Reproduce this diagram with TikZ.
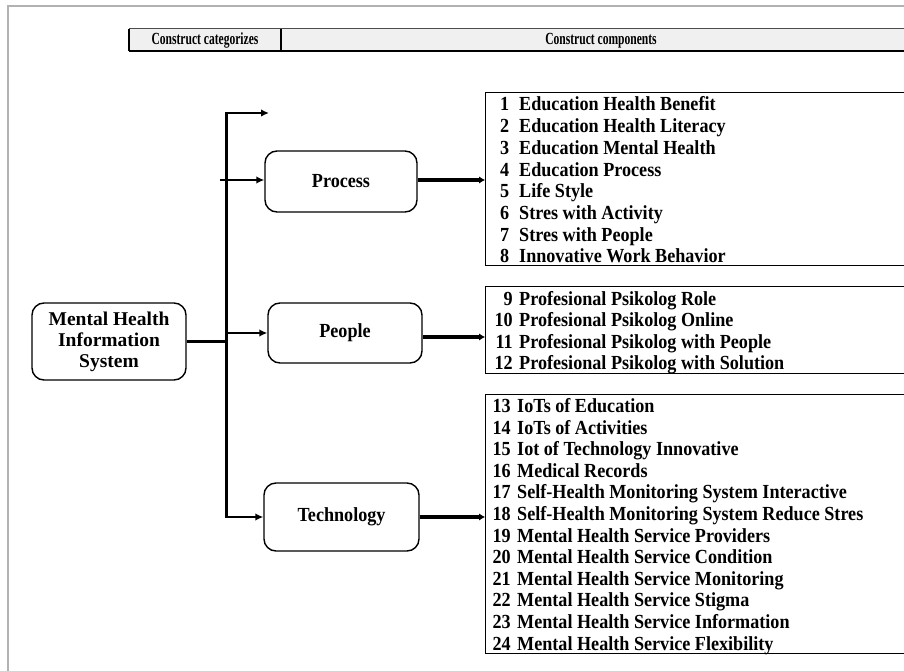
\documentclass[tikz,border=0pt]{standalone}
\usepackage{fontspec}
\setmainfont{Liberation Serif}
\usetikzlibrary{arrows.meta}
\newcommand{\stretchy}[1]{\scalebox{0.98}[1.08]{#1}}
\begin{document}
\begin{tikzpicture}[x=1pt,y=-1pt,
  lbl/.style={font=\fontsize{18.5}{21}\selectfont\bfseries},
  catbox/.style={lbl, draw, line width=1.4pt, rounded corners=12pt, align=center, inner sep=0pt},
  listbox/.style={draw, line width=1.4pt, anchor=north west, inner sep=0pt, minimum width=480pt},
  num/.style={lbl, anchor=east, inner sep=0pt, text height=13pt, text depth=2pt},
  itm/.style={lbl, anchor=west, inner sep=0pt, text height=13pt, text depth=2pt},
  hdr/.style={font=\fontsize{17}{18}\selectfont\bfseries, inner sep=0pt},
  trunk/.style={line width=3pt},
  br/.style={line width=2.4pt, -{Latex[length=8pt,width=7.5pt]}},
  outarr/.style={line width=4pt, -{Latex[length=6pt,width=7.5pt]}},
]
\useasboundingbox (0,0) rectangle (904,671);
\clip (0,0) rectangle (904,671);
% outer frame
\draw[black!30, line width=2pt] (8,671) -- (8,6) -- (904,6);
% header
\fill[black!6] (129,29) rectangle (910,51);
\draw[black!70, line width=1pt] (129,29) -- (910,29);
\draw[line width=1.4pt] (129,51) -- (910,51);
\draw[line width=1.2pt] (129,29) -- (129,51);
\draw[line width=1.2pt] (281,29) -- (281,51);
\node[hdr] (h1) at (205,40.5) {\scalebox{0.68}[1]{Construct categorizes}};
\node[hdr] (h2) at (601,40.5) {\scalebox{0.68}[1]{Construct components}};
% category nodes
\node[catbox, font=\fontsize{19.5}{21}\selectfont\bfseries, minimum width=154pt, minimum height=77pt] (mhis) at (109,341.5) {Mental Health\\Information\\System};
\node[catbox, minimum width=152pt, minimum height=61pt] (process) at (341,181.5) {\stretchy{Process}};
\node[catbox, minimum width=154pt, minimum height=60pt] (people) at (345,333) {\stretchy{People}};
\node[catbox, minimum width=155pt, minimum height=68pt] (tech) at (341.5,517) {\stretchy{Technology}};
% list boxes
\node[listbox, minimum height=173pt] (l1) at (485,92) {};
\node[listbox, minimum height=87pt] (l2) at (485,286) {};
\node[listbox, minimum height=259pt] (l3) at (485,394) {};
% items
\foreach \n/\t [count=\k from 0] in {1/Education Health Benefit,2/Education Health Literacy,3/Education Mental Health,4/Education Process,5/Life Style,6/Stres with Activity,7/Stres with People,8/Innovative Work Behavior}{
  \node[num] (n\n) at (509.5,105.5+21.7*\k) {\stretchy{\n}};
  \node[itm] (t\n) at (519,105.5+21.7*\k) {\stretchy{\t}};
}
\foreach \n/\t [count=\k from 0] in {9/Profesional Psikolog Role,10/Profesional Psikolog Online,11/Profesional Psikolog with People,12/Profesional Psikolog with Solution}{
  \node[num] (n\n) at (513,299.5+21.5*\k) {\stretchy{\n}};
  \node[itm] (t\n) at (519,299.5+21.5*\k) {\stretchy{\t}};
}
\foreach \n/\t [count=\k from 0] in {13/IoTs of Education,14/IoTs of Activities,15/Iot of Technology Innovative,16/Medical Records,17/Self-Health Monitoring System Interactive,18/Self-Health Monitoring System Reduce Stres,19/Mental Health Service Providers,20/Mental Health Service Condition,21/Mental Health Service Monitoring,22/Mental Health Service Stigma,23/Mental Health Service Information,24/Mental Health Service Flexibility}{
  \node[num] (n\n) at (511,407+21.6*\k) {\stretchy{\n}};
  \node[itm] (t\n) at (517,407+21.6*\k) {\stretchy{\t}};
}
% connectors
\coordinate (ttop) at (226,113);
\coordinate (topend) at (269,113);
\coordinate (pstart) at (220,180);
\draw[trunk] (ttop |- tech.west) -- ([yshift=1.2pt]ttop);
\draw[br] ([xshift=-1.2pt]ttop) -- (topend);
\draw[br] (pstart) -- (pstart -| process.west);
\draw[br] (ttop |- people.west) -- (people.west);
\draw[br] ([xshift=-1.2pt]ttop |- tech.west) -- (tech.west);
\draw[line width=3.4pt] (mhis.east) -- (mhis.east -| ttop);
\draw[outarr] (process.east |- pstart) -- (pstart -| l1.west);
\draw[outarr] ([yshift=-4pt]people.east) -- ([yshift=-4pt]people.east -| l2.west);
\draw[outarr] (tech.east) -- (tech.east -| l3.west);
\end{tikzpicture}
\end{document}
